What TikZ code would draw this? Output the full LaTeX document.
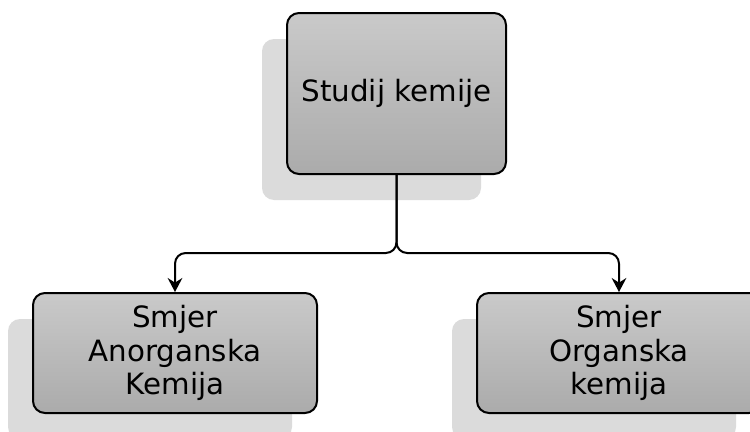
\documentclass[tikz,border=0pt]{standalone}
\usepackage{fontspec}
\setmainfont{DejaVu Sans}
\usetikzlibrary{arrows.meta,shadows}

\begin{document}
\begin{tikzpicture}[x=0.75pt, y=-0.75pt, every node/.style={font=\fontsize{22}{25}\selectfont},
	box/.style={draw, line width=1.5pt, rounded corners=9pt, top color=black!21, bottom color=black!33, align=center, inner sep=0pt,
		general shadow={fill=black!14, shadow xshift=-18.75pt, shadow yshift=-19.5pt}},
	link/.style={line width=1.5pt, rounded corners=8pt, -{Stealth[length=10.5pt, width=11pt, inset=3.5pt]}}]
	\clip (0,0) rectangle (750,432);
	\node[box, minimum width=164.25pt, minimum height=120.75pt] (studij) at (396.5,93.5) {Studij kemije};
	\node[box, minimum width=213pt, minimum height=90pt] (anorg) at (175,353) {Smjer\\Anorganska\\Kemija};
	\node[box, minimum width=213pt, minimum height=90pt] (org) at (619,353) {Smjer\\Organska\\kemija};
	\coordinate (split) at (396.5,253);
	\draw[link] (studij.south) -- (split) -| (anorg.north);
	\draw[link] (studij.south) -- (split) -| (org.north);
\end{tikzpicture}
\end{document}
